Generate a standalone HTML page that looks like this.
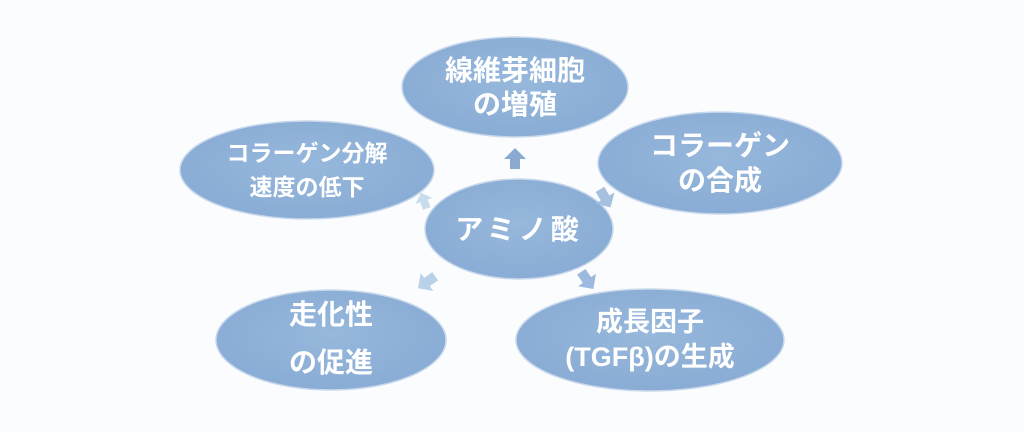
<!DOCTYPE html>
<html><head><meta charset="utf-8"><style>
body{margin:0;background:#fbfcfd;}
svg text{font-family:"Liberation Sans","Noto Sans CJK JP",sans-serif;font-weight:bold;fill:#fff;text-anchor:middle;}
</style></head><body>
<svg width="1024" height="427" viewBox="0 0 1024 427" xmlns="http://www.w3.org/2000/svg">
<defs>
<radialGradient id="g" cx="50%" cy="45%" r="60%">
<stop offset="0" stop-color="#97b8dc"/><stop offset="1" stop-color="#88abd4"/>
</radialGradient>
<polygon id="a" points="0,-11 11,0 5,0 5,10 -5,10 -5,0 -11,0"/>
</defs>
<rect width="1024" height="427" fill="#fbfcfd"/>
<g fill="url(#g)" stroke="#c8d8ec" stroke-width="1.5">
<ellipse cx="515" cy="87" rx="113" ry="50"/>
<ellipse cx="307" cy="170" rx="127" ry="49"/>
<ellipse cx="720" cy="163" rx="122" ry="51"/>
<ellipse cx="519" cy="229" rx="94" ry="50"/>
<ellipse cx="331" cy="340" rx="115" ry="50"/>
<ellipse cx="650" cy="340" rx="134" ry="51"/>
</g>
<use href="#a" transform="translate(515,159)" fill="#8aaad2"/>
<use href="#a" transform="translate(605,198) rotate(150)" fill="#a6c0df"/>
<use href="#a" transform="translate(424,201) rotate(-20) scale(0.8)" fill="#c8dcec"/>
<use href="#a" transform="translate(427,282) rotate(-125)" fill="#b9d2ea"/>
<use href="#a" transform="translate(587,280) rotate(145)" fill="#9cbadf"/>
<g font-size="28">
<text x="515" y="80">線維芽細胞</text>
<text x="515" y="114">の増殖</text>
<text x="307" y="161" font-size="23">コラーゲン分解</text>
<text x="307" y="195" font-size="23">速度の低下</text>
<text x="720" y="155">コラーゲン</text>
<text x="720" y="190">の合成</text>
<text x="519" y="239" letter-spacing="4">アミノ酸</text>
<text x="331" y="324">走化性</text>
<text x="331" y="372">の促進</text>
<text x="650" y="331" font-size="27">成長因子</text>
<text x="650" y="366" font-size="27">(TGFβ)の生成</text>
</g>
</svg>
</body></html>
